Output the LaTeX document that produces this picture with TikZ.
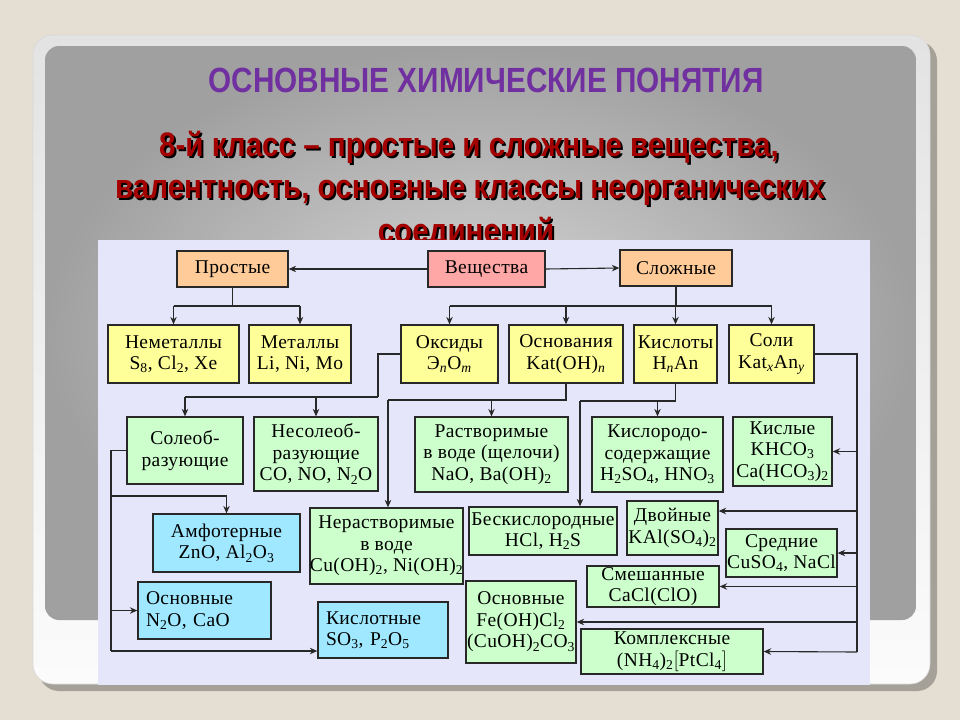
\documentclass[tikz,border=0pt]{standalone}
\usepackage{fontspec}
\setmainfont{Liberation Serif}
\newfontfamily\dfont[LetterSpace=2]{Liberation Serif}
\newfontfamily\hfont{Liberation Sans}
\usetikzlibrary{arrows.meta}
\newcommand\sbs[1]{\textsubscript{#1}}
\definecolor{pagebg}{RGB}{228,222,211}
\definecolor{frameshadow}{RGB}{165,161,152}
\definecolor{panelin}{RGB}{216,216,216}
\definecolor{panelout}{RGB}{160,160,160}
\definecolor{lav}{RGB}{230,230,250}
\definecolor{titlepurple}{RGB}{112,48,160}
\definecolor{subred}{RGB}{165,0,0}
\definecolor{cor}{RGB}{255,204,153}
\definecolor{cpink}{RGB}{255,166,166}
\definecolor{cyel}{RGB}{255,255,153}
\definecolor{cgreen}{RGB}{204,255,204}
\definecolor{cblue}{RGB}{160,232,255}
\definecolor{lnc}{RGB}{40,40,40}
\newcommand\shtext[1]{\makebox[0pt][l]{\hspace{2.3pt}\raisebox{-2pt}{\color{black}#1}}#1}
\tikzset{
  box/.style={draw=lnc, line width=1.3pt, inner sep=0pt, align=center,
    font={\dfont\fontsize{19.5}{21.5}\selectfont}},
  con/.style={draw=lnc, line width=1.1pt},
  arr/.style={con, -{Stealth[length=7.5pt,width=6.5pt,inset=2.5pt]}},
  subt/.style={anchor=base, text=subred, font={\hfont\bfseries\fontsize{34}{34}\selectfont}, xscale=0.87},
}
\begin{document}
\begin{tikzpicture}[x=1pt,y=-1pt]
\useasboundingbox (0,0) rectangle (960,720);
\fill[pagebg] (0,0) rectangle (960,720);
% slide frame
\fill[frameshadow, rounded corners=20pt] (39,41) rectangle (937,691);
\shade[top color=gray!22, bottom color=white!97!gray, rounded corners=20pt, draw=gray!30, line width=0.6pt] (33,35) rectangle (930,684);
\shade[inner color=panelin, outer color=panelout, rounded corners=14pt] (45,46) rectangle (916,620);
% titles
\node[anchor=base, text=titlepurple, font={\hfont\bfseries\fontsize{35}{35}\selectfont}, xscale=0.85] (title) at (486,92) {ОСНОВНЫЕ ХИМИЧЕСКИЕ ПОНЯТИЯ};
\node[subt] (sub1) at (469,156) {\shtext{8-й класс – простые и сложные вещества,}};
\node[subt] (sub2) at (470,198) {\shtext{валентность, основные классы неорганических}};
\node[subt] (sub3) at (466,242) {\shtext{соединений}};
% diagram background
\fill[lav] (98,240) rectangle (870,685);
% row 0
\node[box, fill=cor, minimum width=111pt, minimum height=36pt] (prost) at (232.5,269) {Простые};
\node[box, fill=cpink, minimum width=117pt, minimum height=36pt] (vesh) at (486.5,269) {Вещества};
\node[box, fill=cor, minimum width=112pt, minimum height=36pt] (slozh) at (676,268) {Сложные};
% row 1
\node[box, fill=cyel, minimum width=131pt, minimum height=58pt] (nemet) at (173.5,354) {Неметаллы\\S\sbs{8}, Cl\sbs{2}, Xe};
\node[box, fill=cyel, minimum width=102pt, minimum height=58pt] (metal) at (300,354) {Металлы\\Li, Ni, Mo};
\node[box, fill=cyel, minimum width=97pt, minimum height=58pt] (oksid) at (449.5,354) {Оксиды\\Э\sbs{\textit{n}}O\sbs{\textit{m}}};
\node[box, fill=cyel, minimum width=114pt, minimum height=58pt] (osnov) at (566,354) {Основания\\Kat(OH)\sbs{\textit{n}}};
\node[box, fill=cyel, minimum width=83pt, minimum height=58pt] (kisl) at (675.5,354) {Кислоты\\H\sbs{\textit{n}}An};
\node[box, fill=cyel, minimum width=85pt, minimum height=58pt] (soli) at (771.5,354) {Соли\\Kat\sbs{\textit{x}}An\sbs{\textit{y}}};
% row 2
\node[box, fill=cgreen, minimum width=116pt, minimum height=67pt] (soleob) at (185,450.5) {Солеоб-\\разующие};
\node[box, fill=cgreen, minimum width=124pt, minimum height=74pt] (nesol) at (316,454) {Несолеоб-\\разующие\\CO, NO, N\sbs{2}O};
\node[box, fill=cgreen, minimum width=153pt, minimum height=75pt] (rastv) at (491.5,454.5) {Растворимые\\в воде (щелочи)\\NaO, Ba(OH)\sbs{2}};
\node[box, fill=cgreen, minimum width=131pt, minimum height=75pt] (kislorod) at (657.5,454.5) {Кислородо-\\содержащие\\H\sbs{2}SO\sbs{4}, HNO\sbs{3}};
\node[box, fill=cgreen, minimum width=99pt, minimum height=69pt] (kislye) at (782.5,451.5) {Кислые\\KHCO\sbs{3}\\Ca(HCO\sbs{3})\sbs{2}};
% row 3
\node[box, fill=cblue, minimum width=147pt, minimum height=58pt] (amfo) at (226.5,543) {Амфотерные\\ZnO, Al\sbs{2}O\sbs{3}};
\node[box, fill=cgreen, minimum width=153pt, minimum height=76pt] (nerastv) at (386.5,546) {Нерастворимые\\в воде\\Cu(OH)\sbs{2}, Ni(OH)\sbs{2}};
\node[box, fill=cgreen, minimum width=148pt, minimum height=48pt] (beskisl) at (543,531) {Бескислородные\\HCl, H\sbs{2}S};
\node[box, fill=cgreen, minimum width=91pt, minimum height=54pt] (dvoin) at (672.5,528) {Двойные\\KAl(SO\sbs{4})\sbs{2}};
\node[box, fill=cgreen, minimum width=111pt, minimum height=48pt] (sredn) at (781.5,553) {Средние\\CuSO\sbs{4}, NaCl};
% row 4
\node[box, fill=cblue, minimum width=133pt, minimum height=57pt, align=left, text width=117pt] (osnok) at (204.5,610.5) {Основные\\N\sbs{2}O, CaO};
\node[box, fill=cblue, minimum width=130pt, minimum height=56pt, align=left, text width=114pt] (kislot) at (383,630) {Кислотные\\SO\sbs{3}, P\sbs{2}O\sbs{5}};
\node[box, fill=cgreen, minimum width=110pt, minimum height=82pt] (osnsol) at (521,622) {Основные\\Fe(OH)Cl\sbs{2}\\(CuOH)\sbs{2}CO\sbs{3}};
\node[box, fill=cgreen, minimum width=132pt, minimum height=41pt] (smesh) at (653,586.5) {Смешанные\\CaCl(ClO)};
\node[box, fill=cgreen, minimum width=182pt, minimum height=45pt] (kompl) at (672,651.5) {Комплексные\\(NH\sbs{4})\sbs{2}$\bigl[$PtCl\sbs{4}$\bigr]$};
% connectors: row 0
\draw[arr] (vesh.west) -- (prost.east);
\draw[arr] (vesh.east) -- (slozh.west);
\coordinate (j1) at (0,306);
\draw[con] (prost.south) -- (prost.south |- j1);
\draw[con] (nemet.north |- j1) -- (metal.north |- j1);
\draw[arr] (nemet.north |- j1) -- (nemet.north);
\draw[arr] (metal.north |- j1) -- (metal.north);
\draw[con] (slozh.south) -- (slozh.south |- j1);
\draw[con] (oksid.north |- j1) -- (soli.north |- j1);
\draw[arr] (oksid.north |- j1) -- (oksid.north);
\draw[arr] (osnov.north |- j1) -- (osnov.north);
\draw[arr] (kisl.north |- j1) -- (kisl.north);
\draw[arr] (soli.north |- j1) -- (soli.north);
% oxides
\coordinate (ok1) at (378,397);
\draw[con] (oksid.west) -| (ok1);
\draw[con] (soleob.north |- ok1) -- (ok1);
\draw[arr] (soleob.north |- ok1) -- (soleob.north);
\draw[arr] (nesol.north |- ok1) -- (nesol.north);
% bases
\coordinate (os1) at (388,400);
\draw[con] (osnov.south) |- (os1);
\draw[arr] (os1) -- (os1 |- nerastv.north);
\draw[arr] (rastv.north |- os1) -- (rastv.north);
% acids
\coordinate (ki1) at (580,401);
\draw[con] (kisl.south) |- (ki1);
\draw[arr] (ki1) -- (ki1 |- beskisl.north);
\draw[arr] (kislorod.north |- ki1) -- (kislorod.north);
% salts
\coordinate (s1) at (857,354);
\coordinate (s2) at (857,652);
\coordinate (dv) at (0,511);
\draw[con] (soli.east) -- (s1) -- (s2);
\draw[arr] (s1 |- kislye.east) -- (kislye.east);
\draw[arr] (s1 |- dv) -- (dvoin.east |- dv);
\draw[arr] (s1 |- sredn.east) -- (sredn.east);
\draw[arr] (s1 |- smesh.east) -- (smesh.east);
\draw[arr] (s1 |- osnsol.east) -- (osnsol.east);
\draw[arr] (s2) -- (kompl.east);
% salt-forming oxides
\coordinate (l1) at (111,449);
\coordinate (l2) at (111,496);
\coordinate (l3) at (111,651);
\draw[con] (soleob.west) -- (soleob.west -| l1) -- (l3);
\draw[arr] (l2) -| (amfo.north);
\draw[arr] (l1 |- osnok.west) -- (osnok.west);
\draw[arr] (l3) -- (l3 -| kislot.west);
\end{tikzpicture}
\end{document}
